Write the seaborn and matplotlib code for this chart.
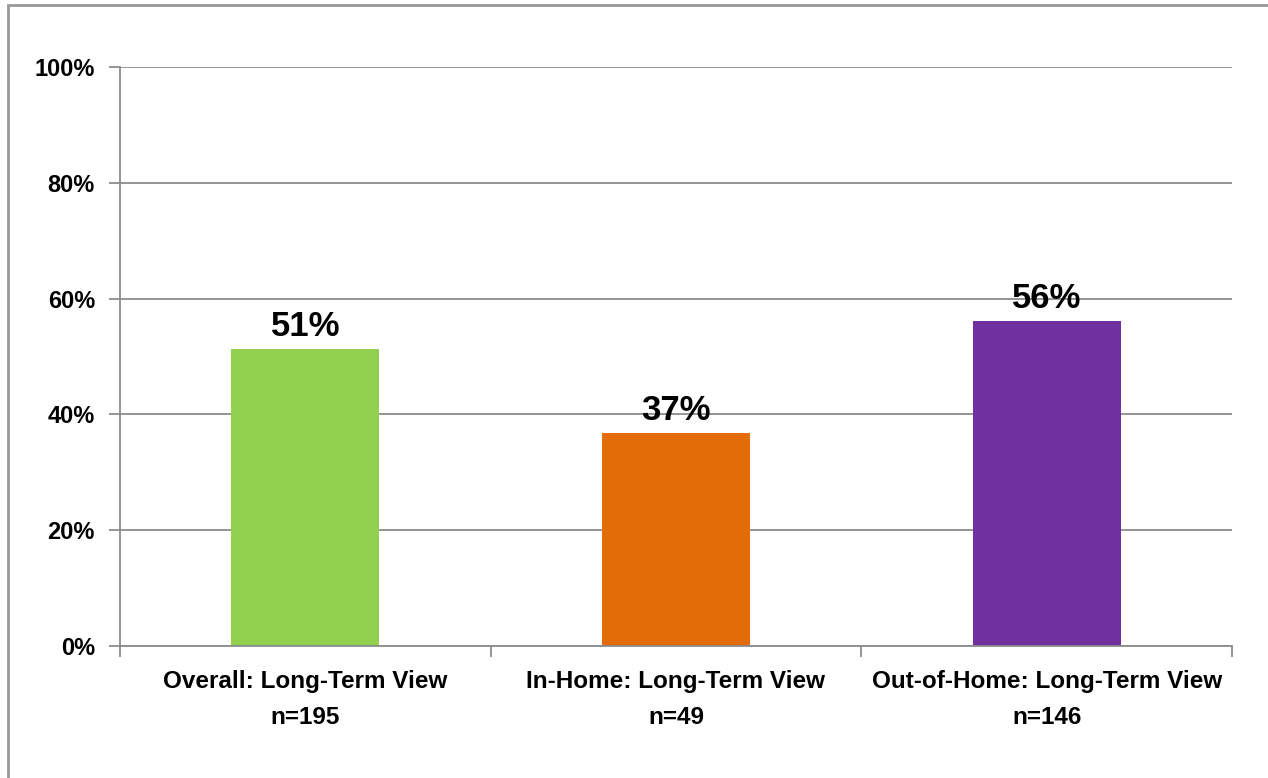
import matplotlib
matplotlib.use("Agg")
import matplotlib.pyplot as plt
import seaborn as sns
import pandas as pd
from matplotlib.patches import Rectangle
from matplotlib.ticker import PercentFormatter

categories = ["Overall: Long-Term View\nn=195",
              "In-Home: Long-Term View\nn=49",
              "Out-of-Home: Long-Term View\nn=146"]
values = [51.3, 36.8, 56.1]
colors = ["#92D050", "#E36C09", "#7030A0"]
yticks = [0, 20, 40, 60, 80, 100]

sns.set_theme(style="white")
plt.rcParams['font.family'] = ['Liberation Sans', 'DejaVu Sans']
plt.rcParams['font.weight'] = 'bold'
plt.rcParams['text.color'] = 'black'
plt.rcParams['xtick.labelcolor'] = 'black'
plt.rcParams['ytick.labelcolor'] = 'black'

df = pd.DataFrame({"cat": categories, "val": values})

fig = plt.figure(figsize=(12.68, 7.78), dpi=100)
ax = fig.add_axes([120/1268, 1-646/778, (1232-120)/1268, (646-67)/778])

sns.barplot(data=df, x="cat", y="val", hue="cat", palette=colors,
            width=0.4, ax=ax, legend=False, saturation=1, linewidth=0, edgecolor='none')

ax.set_ylim(0, 100)
ax.set_xlim(-0.5, 2.5)
ax.set_yticks(yticks)
ax.yaxis.set_major_formatter(PercentFormatter(decimals=0))
ax.set_xlabel("")
ax.set_ylabel("")
ax.grid(axis='y', color='#8C8C8C', linewidth=1.3)
ax.set_axisbelow(True)

for s in ['top', 'right']:
    ax.spines[s].set_visible(False)
for s in ['left', 'bottom']:
    ax.spines[s].set_visible(True)
    ax.spines[s].set_color('#8C8C8C')
    ax.spines[s].set_linewidth(1.3)

ax.set_xticks([0, 1, 2])
ax.set_xticklabels(categories, fontsize=17.5, fontweight='bold', linespacing=1.72, color='black')
ax.set_xticks([-0.5, 0.5, 1.5, 2.5], minor=True)
ax.tick_params(axis='x', which='major', length=0, pad=17)
ax.tick_params(axis='x', which='minor', length=8, width=1.3, color='#8C8C8C', direction='out', bottom=True)
ax.tick_params(axis='y', length=8, width=1.3, color='#8C8C8C', direction='out', left=True,
               labelsize=17, pad=10, labelcolor='black')
for lab in ax.get_yticklabels():
    lab.set_fontweight('bold')

for i, v in enumerate(values):
    ax.text(i, v + 1.0, f"{v:.0f}%", ha='center', va='bottom', fontsize=25, fontweight='bold', color='black')

fig.patches.append(Rectangle((8/1268, -0.1), 1.2, 1 - 5/778 + 0.1, transform=fig.transFigure,
                             fill=False, edgecolor='#999999', linewidth=2))

fig.savefig("out.png", dpi=100)
